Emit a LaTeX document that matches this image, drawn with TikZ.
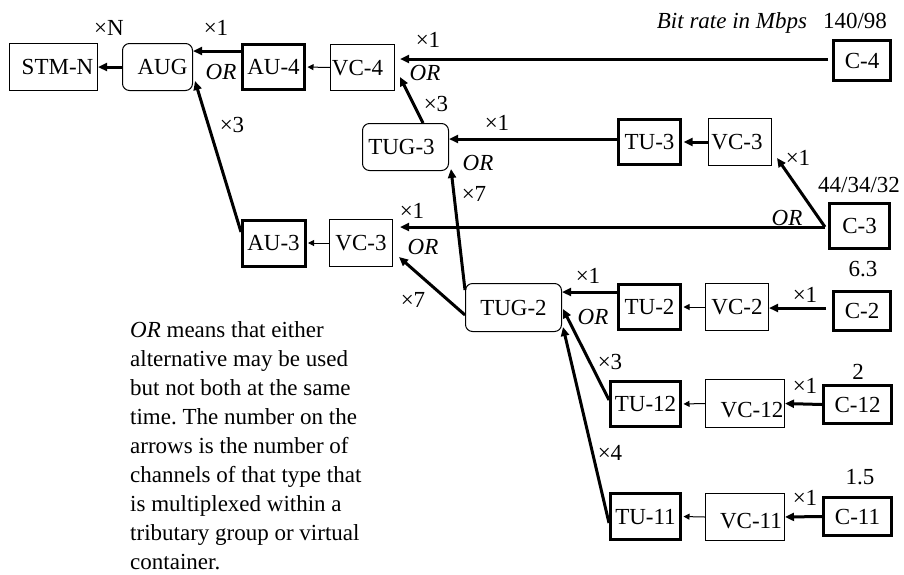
\documentclass[tikz,border=0pt]{standalone}
\usepackage{fontspec}
\setmainfont{Liberation Serif}
\usetikzlibrary{arrows.meta}
\frenchspacing
\begin{document}
\begin{tikzpicture}[x=1pt,y=-1pt,
  txt/.style={font=\fontsize{23}{29}\selectfont, inner sep=0pt, text height=15.2pt, text depth=0pt},
  thinbox/.style={txt, draw, line width=1pt},
  thickbox/.style={txt, draw, line width=3pt},
  rbox/.style={txt, draw, line width=1pt, rounded corners=7pt},
  lbl/.style={txt},
  orl/.style={txt, font=\fontsize{23}{29}\selectfont\itshape},
  thk/.style={line width=3pt, -{Triangle[length=9pt,width=8pt]}},
  thn/.style={line width=1pt, -{Triangle[length=6pt,width=6pt]}, shorten >=1.5pt},
]
\useasboundingbox (0,0) rectangle (904,574);

% boxes
\node[thinbox, minimum width=88pt, minimum height=47pt] (stm) at (53.5,67) {\hspace*{8pt}STM-N};
\node[rbox, minimum width=70pt, minimum height=47pt] (aug) at (157.5,67) {\hspace*{10pt}AUG};
\node[thickbox, minimum width=62pt, minimum height=45pt] (au4) at (273.5,67) {AU-4};
\node[thinbox, minimum width=64pt, minimum height=46pt] (vc4) at (362.5,67.5) {VC-4\hspace*{10pt}};
\node[thickbox, minimum width=57pt, minimum height=40pt] (c4) at (862,60.5) {C-4};
\node[rbox, minimum width=86pt, minimum height=47pt] (tug3) at (405.5,147) {TUG-3\hspace*{8pt}};
\node[thickbox, minimum width=62pt, minimum height=45pt] (tu3) at (649.5,142) {TU-3};
\node[thinbox, minimum width=63pt, minimum height=47pt] (vc3a) at (740,142) {VC-3\hspace*{6pt}};
\node[thickbox, minimum width=60pt, minimum height=45pt] (c3) at (859.5,226) {C-3};
\node[thinbox, minimum width=63pt, minimum height=47pt] (vc3b) at (361,243) {VC-3};
\node[thickbox, minimum width=63pt, minimum height=46pt] (au3) at (273.5,243) {AU-3};
\node[rbox, minimum width=96pt, minimum height=48pt] (tug2) at (513.5,307.5) {TUG-2};
\node[thickbox, minimum width=62pt, minimum height=45pt] (tu2) at (649.5,307) {TU-2};
\node[thinbox, minimum width=63pt, minimum height=47pt] (vc2) at (737,307) {VC-2};
\node[thickbox, minimum width=57pt, minimum height=39pt] (c2) at (862,311) {C-2};
\node[thickbox, minimum width=70pt, minimum height=45pt] (tu12) at (645.5,404) {TU-12};
\node[thinbox, minimum width=79pt, minimum height=48pt] (vc12) at (745,403.5) {};
\node[lbl] (vc12t) at (752,410) {VC-12};
\node[thickbox, minimum width=68pt, minimum height=38pt] (c12) at (857.5,404.5) {C-12};
\node[thickbox, minimum width=70pt, minimum height=46pt] (tu11) at (645.5,516.5) {TU-11};
\node[thinbox, minimum width=79pt, minimum height=47pt] (vc11) at (745,517) {};
\node[lbl] (vc11t) at (751,521) {VC-11};
\node[thickbox, minimum width=68pt, minimum height=38pt] (c11) at (857.5,516.5) {C-11};

% coordinates
\coordinate (y51) at (0,51);
\coordinate (y139) at (0,139);
\coordinate (y292) at (0,292);
\coordinate (c4out) at (828,59);
\coordinate (c4in) at (400,59);
\coordinate (vc4b) at (400,77);
\coordinate (cs) at (825,227);
\coordinate (vc3ain) at (777,158);
\coordinate (vc3bin) at (400,227);
\coordinate (au3o) at (241,232);
\coordinate (augb) at (195,81);
\coordinate (t2a) at (465,290);
\coordinate (t3b) at (451,169);
\coordinate (t2b) at (465,315);
\coordinate (v3bb) at (399,257);
\coordinate (c2o) at (826,308);
\coordinate (t12o) at (609,400);
\coordinate (t2c) at (563,309);
\coordinate (t11o) at (609,523);
\coordinate (t2d) at (563,327);

% connectors
\draw[thk] (aug.west) -- (stm.east);
\draw[thk] (au4.west |- y51) -- (aug.east |- y51);
\draw[thn] (vc4.west) -- (au4.east);
\draw[thk] (c4out) -- (c4in);
\draw[thk] ([xshift=17.5pt]tug3.north) -- (vc4b);
\draw[thk] (tu3.west |- y139) -- (tug3.east |- y139);
\draw[thk, shorten >=1.5pt] (vc3a.west) -- (tu3.east);
\draw[thk] (cs) -- (vc3ain);
\draw[thk] (cs) -- (vc3bin);
\draw[thn] (vc3b.west) -- (au3.east);
\draw[thk] (au3o) -- (augb);
\draw[thk] (t2a) -- (t3b);
\draw[thk] (t2b) -- (v3bb);
\draw[thk] (tu2.west |- y292) -- (tug2.east |- y292);
\draw[thn] (vc2.west) -- (tu2.east);
\draw[thk] (c2o) -- (vc2.east |- c2o);
\draw[thk] (t12o) -- (t2c);
\draw[thn] (vc12.west) -- (tu12.east);
\draw[thk] (c12.west) -- (vc12.east);
\draw[thk] (t11o) -- (t2d);
\draw[thn] (vc11.west) -- (tu11.east);
\draw[thk] (c11.west) -- (vc11.east);

% labels
\node[lbl] (lN) at (109,28) {×N};
\node[lbl] (l1a) at (216,28) {×1};
\node[orl] (ora) at (221,72) {OR};
\node[lbl] (l1b) at (428,40) {×1};
\node[orl] (orb) at (425,73) {OR};
\node[lbl] (l3a) at (436,104) {×3};
\node[lbl] (l3b) at (232,125) {×3};
\node[orl] (bitrate) at (732,21) {Bit rate in Mbps};
\node[lbl] (r140) at (855,21) {140/98};
\node[lbl] (l1c) at (497,123) {×1};
\node[orl] (orc) at (478,163) {OR};
\node[lbl] (l7a) at (474,194) {×7};
\node[lbl] (l1d) at (798,158) {×1};
\node[lbl] (r44) at (859,185) {44/34/32};
\node[orl] (ord) at (787,218) {OR};
\node[lbl] (l1e) at (412,211) {×1};
\node[orl] (ore) at (423,247) {OR};
\node[lbl] (l7b) at (413,300) {×7};
\node[lbl] (l1f) at (588,276) {×1};
\node[orl] (orf) at (593,317) {OR};
\node[lbl] (l1g) at (805,295) {×1};
\node[lbl] (r63) at (863,269) {6.3};
\node[lbl] (l3c) at (610,362) {×3};
\node[lbl] (l4) at (610,453) {×4};
\node[lbl] (l1h) at (805,386) {×1};
\node[lbl] (r2) at (858,372) {2};
\node[lbl] (l1i) at (805,498) {×1};
\node[lbl] (r15) at (860,477) {1.5};

\node[anchor=north west, align=left, inner sep=0pt, font=\fontsize{23}{29}\selectfont] (note) at (130,321.3)
{\textit{OR} means that either\\
alternative may be used\\
but not both at the same\\
time. The number on the\\
arrows is the number of\\
channels of that type that\\
is multiplexed within a\\
tributary group or virtual\\
container.};
\end{tikzpicture}
\end{document}
